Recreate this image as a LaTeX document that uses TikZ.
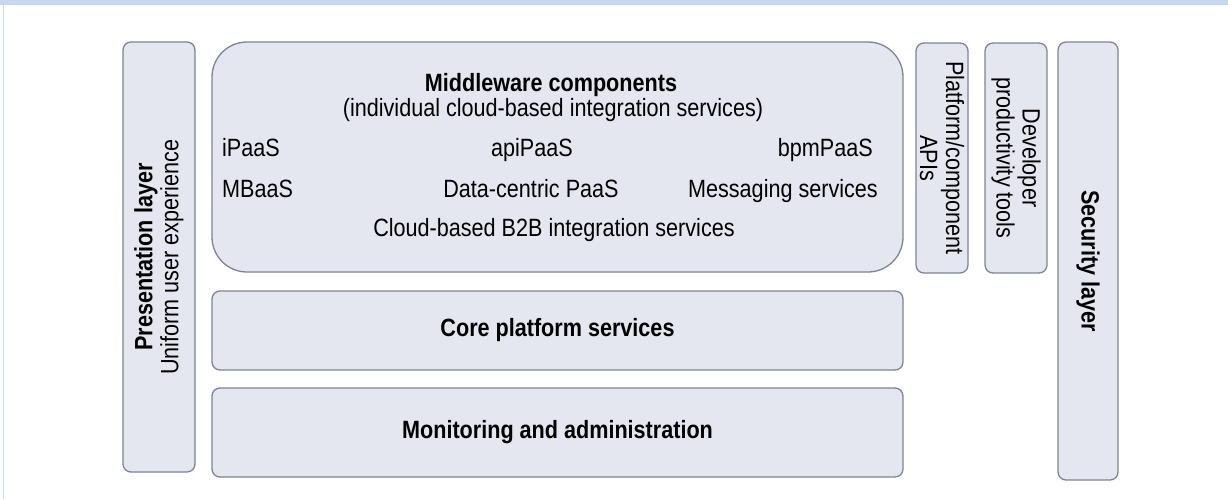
\documentclass[tikz,border=0pt]{standalone}
\usepackage{fontspec}
\setmainfont[FakeStretch=0.864]{Liberation Sans}
\definecolor{boxfill}{RGB}{228,230,240}
\definecolor{boxline}{RGB}{127,132,148}
\definecolor{headerblue}{RGB}{198,217,241}
\begin{document}
\begin{tikzpicture}[x=1pt,y=-1pt,
  every node/.style={font=\fontsize{25}{26}\selectfont, text=black},
  box/.style={draw=boxline, fill=boxfill, line width=1.3pt, rounded corners=8pt, inner sep=0pt, align=center},
  lbl/.style={inner sep=0pt, anchor=base}]
\useasboundingbox (0,0) rectangle (1228,499);
\fill[headerblue] (0,0) rectangle (1228,5);
\draw[headerblue, line width=1pt] (3,5) -- (3,499);
% left presentation layer
\node[box, rotate=90, minimum width=430pt, minimum height=72pt] (pres) at (159,257)
  {\textbf{Presentation layer}\\Uniform user experience};
% middleware
\node[box, rounded corners=35pt, minimum width=691pt, minimum height=230pt] (mw) at (557.5,157) {};
\node[lbl] (mwt) at (551,91) {\textbf{Middleware components}};
\node[lbl] (mws) at (553,116) {(individual cloud-based integration services)};
\node[lbl, anchor=base west] (ipaas) at (222,156) {iPaaS};
\node[lbl] (api) at (532,156) {apiPaaS};
\node[lbl, anchor=base east] (bpm) at (873,156) {bpmPaaS};
\node[lbl, anchor=base west] (mbaas) at (222,197) {MBaaS};
\node[lbl] (data) at (531,197) {Data-centric PaaS};
\node[lbl, anchor=base east] (msg) at (878,197) {Messaging services};
\node[lbl] (b2b) at (554,236) {Cloud-based B2B integration services};
% core and monitoring
\node[box, minimum width=691pt, minimum height=79pt] (core) at (557.5,330.5) {\textbf{Core platform services}};
\node[box, minimum width=691pt, minimum height=89pt] (mon) at (557.5,432.5) {\textbf{Monitoring and administration}};
% right columns
\node[box, rotate=-90, minimum width=230pt, minimum height=52pt] (apis) at (942,158)
  {Platform/component\\APIs};
\node[box, rotate=-90, minimum width=230pt, minimum height=62pt] (dev) at (1016,158)
  {Developer\\productivity tools};
\node[box, rotate=-90, minimum width=438pt, minimum height=60pt] (sec) at (1088,261)
  {\textbf{Security layer}};
\end{tikzpicture}
\end{document}
